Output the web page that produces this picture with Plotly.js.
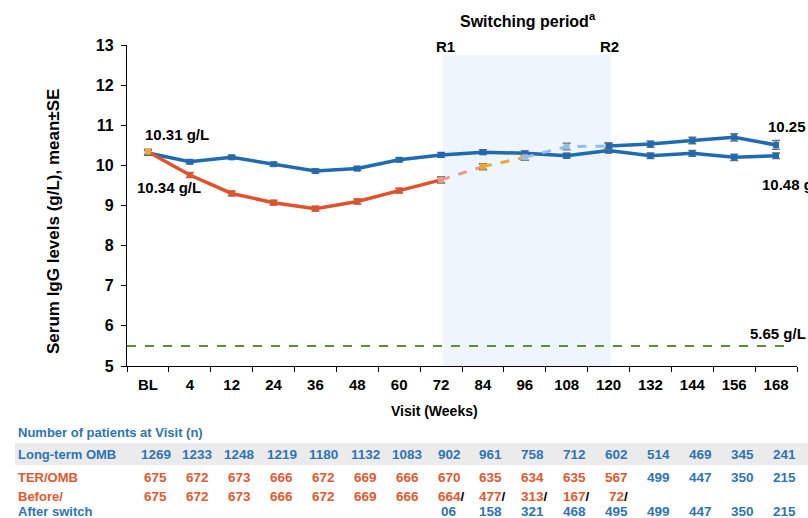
<!DOCTYPE html>
<html><head><meta charset="utf-8">
<script src="https://cdn.plot.ly/plotly-3.0.1.min.js"></script>
<style>html,body{margin:0;padding:0;background:#fff;}#chart{width:808px;height:518px;}</style>
</head><body><div id="chart"></div>
<script>
const weeks = ['BL','4','12','24','36','48','60','72','84','96','108','120','132','144','156','168'];
const longTermOMB = [10.31,10.09,10.20,10.03,9.86,9.92,10.14,10.26,10.33,10.30,10.24,10.37,10.24,10.30,10.20,10.24];
const longTermSE  = [0.06,0.05,0.05,0.05,0.05,0.05,0.05,0.06,0.06,0.06,0.06,0.06,0.07,0.07,0.08,0.07];
const terOmb      = [10.34,9.76,9.30,9.07,8.92,9.10,9.37,9.64,9.97,10.20,10.47,10.48,10.53,10.62,10.70,10.51];
const terOmbSE    = [0.06,0.06,0.06,0.06,0.06,0.06,0.06,0.07,0.07,0.07,0.08,0.08,0.08,0.08,0.09,0.11];
const llnValue = 5.5;
const nLongTerm = [1269,1233,1248,1219,1180,1132,1083,902,961,758,712,602,514,469,345,241];
const nTerOmb   = [675,672,673,666,672,669,666,670,635,634,635,567,499,447,350,215];
const nBefore   = [675,672,673,666,672,669,666,664,477,313,167,72,null,null,null,null];
const nAfter    = [null,null,null,null,null,null,null,'06',158,321,468,495,499,447,350,215];

const BLUE='#1F6AB1', RED='#E0522B', ORANGE='#F2A632', SALMON='#EA9A87', LBLUE='#93BEE6', GRAY='#707070';
const TBLUE='#2E74B5', TRED='#E0592E';
const F='Arial, "Liberation Sans", sans-serif';

function seg(a,b,color,dash,mcolor){
  return {x:weeks.slice(a,b+1), y:terOmb.slice(a,b+1), type:'scatter', mode:'lines+markers',
    line:{color:color,width:dash?3:3.5,dash:dash?'dash':'solid'},
    marker:{color:mcolor||color,size:6,symbol:'square'},
    error_y:{type:'data',array:terOmbSE.slice(a,b+1),color:GRAY,thickness:1.5,width:4},
    showlegend:false,hoverinfo:'skip',cliponaxis:false};
}
const traces=[
  {x:weeks,y:longTermOMB,type:'scatter',mode:'lines+markers',line:{color:BLUE,width:3.5},
   marker:{color:BLUE,size:6,symbol:'square'},
   error_y:{type:'data',array:longTermSE,color:GRAY,thickness:1.5,width:4},showlegend:false,cliponaxis:false},
  Object.assign(seg(0,7,RED,false),{marker:{color:[ORANGE].concat(Array(7).fill(RED)),size:6,symbol:'square'}}),
  seg(7,8,SALMON,true),
  seg(8,9,ORANGE,true),
  seg(9,11,LBLUE,true),
  seg(11,15,BLUE,false)
];

const PT=45, PB=366, H=PB-PT, PL=127, PR=797, W=PR-PL;
const py = p => (PB-p)/H;
const px = p => (p-PL)/W;

const ann=[];
function A(o){ann.push(Object.assign({showarrow:false,xanchor:'center',yanchor:'middle',font:{family:F,size:15,color:'#000'}},o));}
A({text:'<b>Switching period<sup>a</sup></b>',xref:'paper',yref:'paper',x:px(528),y:py(20),font:{family:F,size:16,color:'#000'}});
A({text:'<b>R1</b>',xref:'paper',yref:'paper',x:px(445),y:py(46)});
A({text:'<b>R2</b>',xref:'paper',yref:'paper',x:px(609),y:py(46)});
A({text:'<b>10.31 g/L</b>',xref:'paper',yref:'paper',x:px(143),xanchor:'left',y:py(134)});
A({text:'<b>10.34 g/L</b>',xref:'paper',yref:'paper',x:px(135),xanchor:'left',y:py(187)});
A({text:'<b>10.25 g/L</b>',xref:'paper',yref:'paper',x:px(766),xanchor:'left',y:py(126)});
A({text:'<b>10.48 g/L</b>',xref:'paper',yref:'paper',x:px(760),xanchor:'left',y:py(184)});
A({text:'<b>5.65 g/L</b>',xref:'paper',yref:'paper',x:px(748),xanchor:'left',y:py(333)});
A({text:'<b>Visit (Weeks)</b>',xref:'paper',yref:'paper',x:px(434),y:py(411),font:{family:F,size:14,color:'#000'}});
A({text:'<b>Serum IgG levels (g/L), mean±SE</b>',xref:'paper',yref:'paper',x:px(54),y:py(222),textangle:-90,font:{family:F,size:17,color:'#000'}});
const TL=(c)=>({family:F,size:13,color:c});
const TF=(c)=>({family:F,size:13.5,color:c});
A({text:'<b>Number of patients at Visit (n)</b>',xref:'paper',yref:'paper',x:px(16),xanchor:'left',y:py(432),font:TL(TBLUE)});
A({text:'<b>Long-term OMB</b>',xref:'paper',yref:'paper',x:px(16),xanchor:'left',y:py(454),font:TL(TBLUE)});
A({text:'<b>TER/OMB</b>',xref:'paper',yref:'paper',x:px(16),xanchor:'left',y:py(477),font:TL(TRED)});
A({text:'<b>Before/</b>',xref:'paper',yref:'paper',x:px(16),xanchor:'left',y:py(496),font:TL(TRED)});
A({text:'<b>After switch</b>',xref:'paper',yref:'paper',x:px(16),xanchor:'left',y:py(511),font:TL(TBLUE)});
weeks.forEach((w,i)=>{
  A({text:'<b>'+nLongTerm[i]+'</b>',xref:'x',yref:'paper',x:i,xshift:8,y:py(454),font:TF(TBLUE)});
  A({text:'<b>'+nTerOmb[i]+'</b>',xref:'x',yref:'paper',x:i,xshift:8,y:py(477),font:TF(nBefore[i]!=null?TRED:TBLUE)});
  if(nBefore[i]!=null){
    const slash = i>=7 ? '<span style="color:#000">/</span>' : '';
    A({text:'<b>'+nBefore[i]+slash+'</b>',xref:'x',yref:'paper',x:i,xshift:i>=7?10:8,y:py(496),font:TF(TRED)});
  }
  if(nAfter[i]!=null){
    A({text:'<b>'+nAfter[i]+'</b>',xref:'x',yref:'paper',x:i,xshift:8,y:py(511),font:TF(TBLUE)});
  }
});

const layout={
  width:808,height:518,margin:{l:PL,r:808-PR,t:PT,b:518-PB},
  paper_bgcolor:'#fff',plot_bgcolor:'rgba(0,0,0,0)',showlegend:false,
  font:{family:F},
  xaxis:{type:'category',range:[-0.5,15.5],showgrid:false,zeroline:false,showline:true,linecolor:'#000',linewidth:1.2,
    ticks:'outside',tickson:'boundaries',ticklen:5,tickcolor:'#000',ticklabelstandoff:5,
    tickfont:{family:F,size:15,color:'#000',weight:'bold'},fixedrange:true},
  yaxis:{range:[5,13],dtick:1,showgrid:false,zeroline:false,showline:true,linecolor:'#000',linewidth:1.2,
    ticks:'outside',ticklen:5,tickcolor:'#000',ticklabelstandoff:4,
    tickfont:{family:F,size:16,color:'#000',weight:'bold'},fixedrange:true},
  shapes:[
    {type:'rect',xref:'x',yref:'paper',x0:7.05,x1:11.05,y0:0,y1:py(55),fillcolor:'#EEF5FC',line:{width:0},layer:'below'},
    {type:'rect',xref:'paper',yref:'paper',x0:px(15),x1:px(808),y0:py(443),y1:py(465),fillcolor:'#EBEBEB',line:{width:0},layer:'below'},
    {type:'line',xref:'paper',yref:'y',x0:0,x1:px(792),y0:llnValue,y1:llnValue,line:{color:'#5B8E3B',width:2,dash:'dash'}}
  ],
  annotations:ann
};
Plotly.newPlot('chart',traces,layout,{displayModeBar:false,staticPlot:true});
</script></body></html>
